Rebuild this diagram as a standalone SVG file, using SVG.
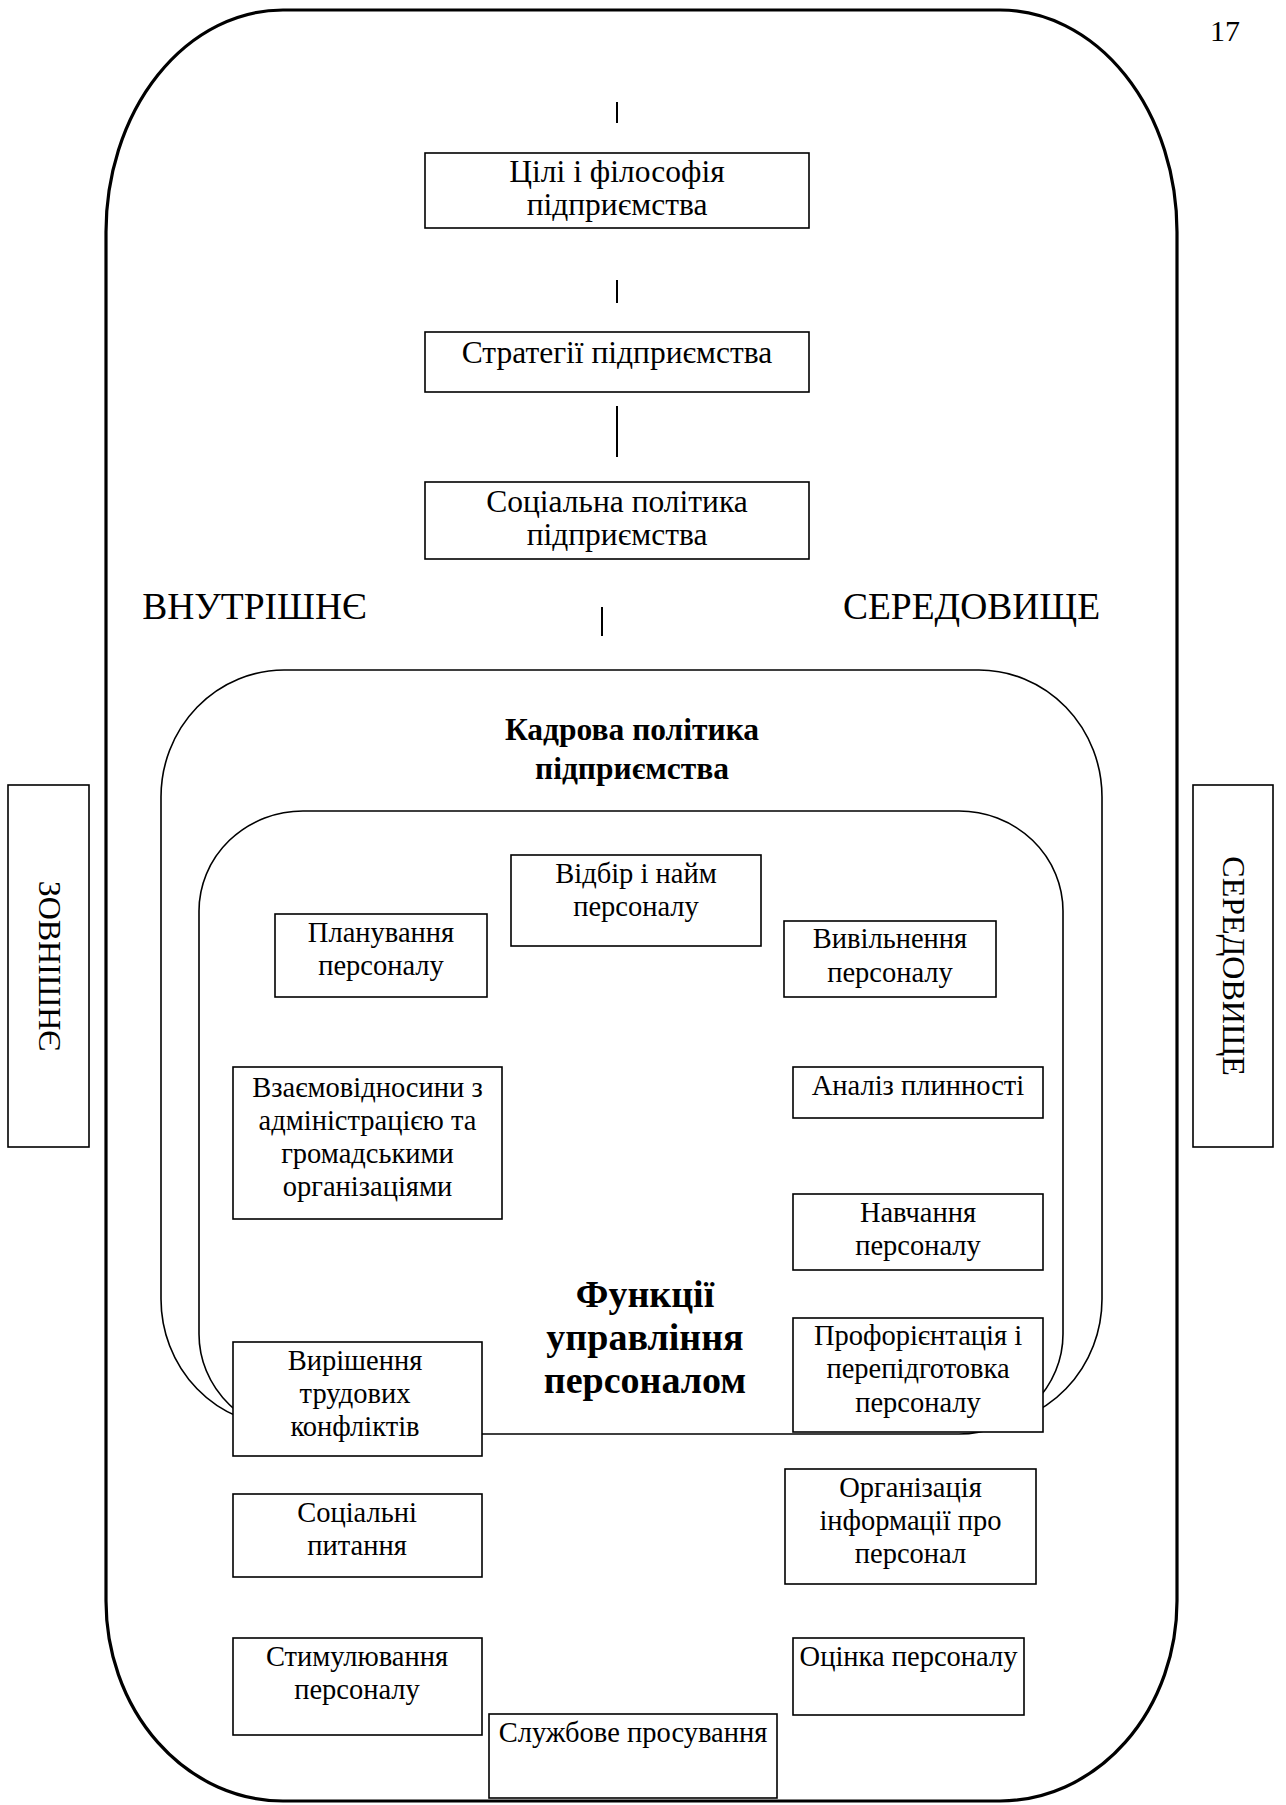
<svg xmlns="http://www.w3.org/2000/svg" width="1286" height="1805" viewBox="0 0 1286 1805">
<style>
.box{fill:#fff;stroke:#000;stroke-width:1.6}
.shape{fill:#fff;stroke:#000;stroke-width:1.6}
.t{font-family:"Liberation Serif","Times New Roman",serif;fill:#000;text-anchor:middle}
.s31{font-size:31.5px}
.s28{font-size:28.5px}
.b{font-weight:bold}
.tick{stroke:#000;stroke-width:2;fill:none}
</style>
<rect width="1286" height="1805" fill="#fff"/>
<text class="t" x="1225" y="41" font-size="30">17</text>

<g id="external-environment">
<path d="M283,10 L1000,10 A177,222 0 0 1 1177,232 L1177,1601 A177,200 0 0 1 1000,1801 L283,1801 A177,200 0 0 1 106,1601 L106,232 A177,222 0 0 1 283,10 Z" fill="none" stroke="#000" stroke-width="3.2"/>
</g>

<g id="zovnishnie">
<rect class="box" x="8" y="785" width="81" height="362"/>
<text class="t" font-size="32" transform="translate(38.5,966) rotate(90)">ЗОВНІШНЄ</text>
</g>
<g id="seredovyshche-right">
<rect class="box" x="1193" y="785" width="80" height="362"/>
<text class="t" font-size="32" transform="translate(1223,966) rotate(90)">СЕРЕДОВИЩЕ</text>
</g>

<g id="vnutrishnie">
<text class="t" font-size="37.5" x="254.5" y="619">ВНУТРІШНЄ</text>
</g>
<g id="seredovyshche">
<text class="t" font-size="37.5" x="971.5" y="619">СЕРЕДОВИЩЕ</text>
</g>

<g id="connectors">
<line class="tick" x1="617" y1="102" x2="617" y2="123"/>
<line class="tick" x1="617" y1="280" x2="617" y2="303"/>
<line class="tick" x1="617" y1="406" x2="617" y2="457"/>
<line class="tick" x1="602" y1="607" x2="602" y2="636"/>
</g>

<g id="goals">
<rect class="box" x="425" y="153" width="384" height="75"/>
<text class="t s31" x="617" y="182">Цілі і філософія</text>
<text class="t s31" x="617" y="215">підприємства</text>
</g>
<g id="strategies">
<rect class="box" x="425" y="332" width="384" height="60"/>
<text class="t s31" x="617" y="363">Стратегії підприємства</text>
</g>
<g id="social-policy">
<rect class="box" x="425" y="482" width="384" height="77"/>
<text class="t s31" x="617" y="512">Соціальна політика</text>
<text class="t s31" x="617" y="545">підприємства</text>
</g>

<g id="hr-policy">
<path class="shape" d="M284,670 L979,670 A123,127 0 0 1 1102,797 L1102,1299 A123,127 0 0 1 979,1426 L284,1426 A123,127 0 0 1 161,1299 L161,797 A123,127 0 0 1 284,670 Z"/>
<text class="t s31 b" x="632" y="740">Кадрова політика</text>
<text class="t s31 b" x="632" y="779">підприємства</text>
</g>

<g id="hr-functions">
<path class="shape" d="M303,811 L959,811 A104,100 0 0 1 1063,911 L1063,1334 A104,100 0 0 1 959,1434 L303,1434 A104,100 0 0 1 199,1334 L199,911 A104,100 0 0 1 303,811 Z"/>
<text class="t b" font-size="38" x="645" y="1307">Функції</text>
<text class="t b" font-size="38" x="645" y="1350">управління</text>
<text class="t b" font-size="38" x="645" y="1393">персоналом</text>
</g>

<g id="selection">
<rect class="box" x="511" y="855" width="250" height="91"/>
<text class="t s28" x="636" y="883">Відбір і найм</text>
<text class="t s28" x="636" y="916">персоналу</text>
</g>
<g id="planning">
<rect class="box" x="275" y="914" width="212" height="83"/>
<text class="t s28" x="381" y="942">Планування</text>
<text class="t s28" x="381" y="975">персоналу</text>
</g>
<g id="release">
<rect class="box" x="784" y="921" width="212" height="76"/>
<text class="t s28" x="890" y="948">Вивільнення</text>
<text class="t s28" x="890" y="982">персоналу</text>
</g>
<g id="relations">
<rect class="box" x="233" y="1067" width="269" height="152"/>
<text class="t s28" x="367.5" y="1097">Взаємовідносини з</text>
<text class="t s28" x="367.5" y="1130">адміністрацією та</text>
<text class="t s28" x="367.5" y="1163">громадськими</text>
<text class="t s28" x="367.5" y="1196">організаціями</text>
</g>
<g id="turnover">
<rect class="box" x="793" y="1067" width="250" height="51"/>
<text class="t s28" x="918" y="1095">Аналіз плинності</text>
</g>
<g id="training">
<rect class="box" x="793" y="1194" width="250" height="76"/>
<text class="t s28" x="918" y="1222">Навчання</text>
<text class="t s28" x="918" y="1255">персоналу</text>
</g>
<g id="retraining">
<rect class="box" x="793" y="1318" width="250" height="114"/>
<text class="t s28" x="918" y="1345">Профорієнтація і</text>
<text class="t s28" x="918" y="1378">перепідготовка</text>
<text class="t s28" x="918" y="1412">персоналу</text>
</g>
<g id="conflicts">
<rect class="box" x="233" y="1342" width="249" height="114"/>
<text class="t s28" x="355" y="1370">Вирішення</text>
<text class="t s28" x="355" y="1403">трудових</text>
<text class="t s28" x="355" y="1436">конфліктів</text>
</g>
<g id="social-issues">
<rect class="box" x="233" y="1494" width="249" height="83"/>
<text class="t s28" x="357" y="1522">Соціальні</text>
<text class="t s28" x="357" y="1555">питання</text>
</g>
<g id="information">
<rect class="box" x="785" y="1469" width="251" height="115"/>
<text class="t s28" x="910.5" y="1497">Організація</text>
<text class="t s28" x="910.5" y="1530">інформації про</text>
<text class="t s28" x="910.5" y="1563">персонал</text>
</g>
<g id="stimulation">
<rect class="box" x="233" y="1638" width="249" height="97"/>
<text class="t s28" x="357" y="1666">Стимулювання</text>
<text class="t s28" x="357" y="1699">персоналу</text>
</g>
<g id="evaluation">
<rect class="box" x="793" y="1638" width="231" height="77"/>
<text class="t s28" x="908.5" y="1666">Оцінка персоналу</text>
</g>
<g id="promotion">
<rect class="box" x="489" y="1714" width="288" height="84"/>
<text class="t s28" x="633" y="1742">Службове просування</text>
</g>
</svg>
